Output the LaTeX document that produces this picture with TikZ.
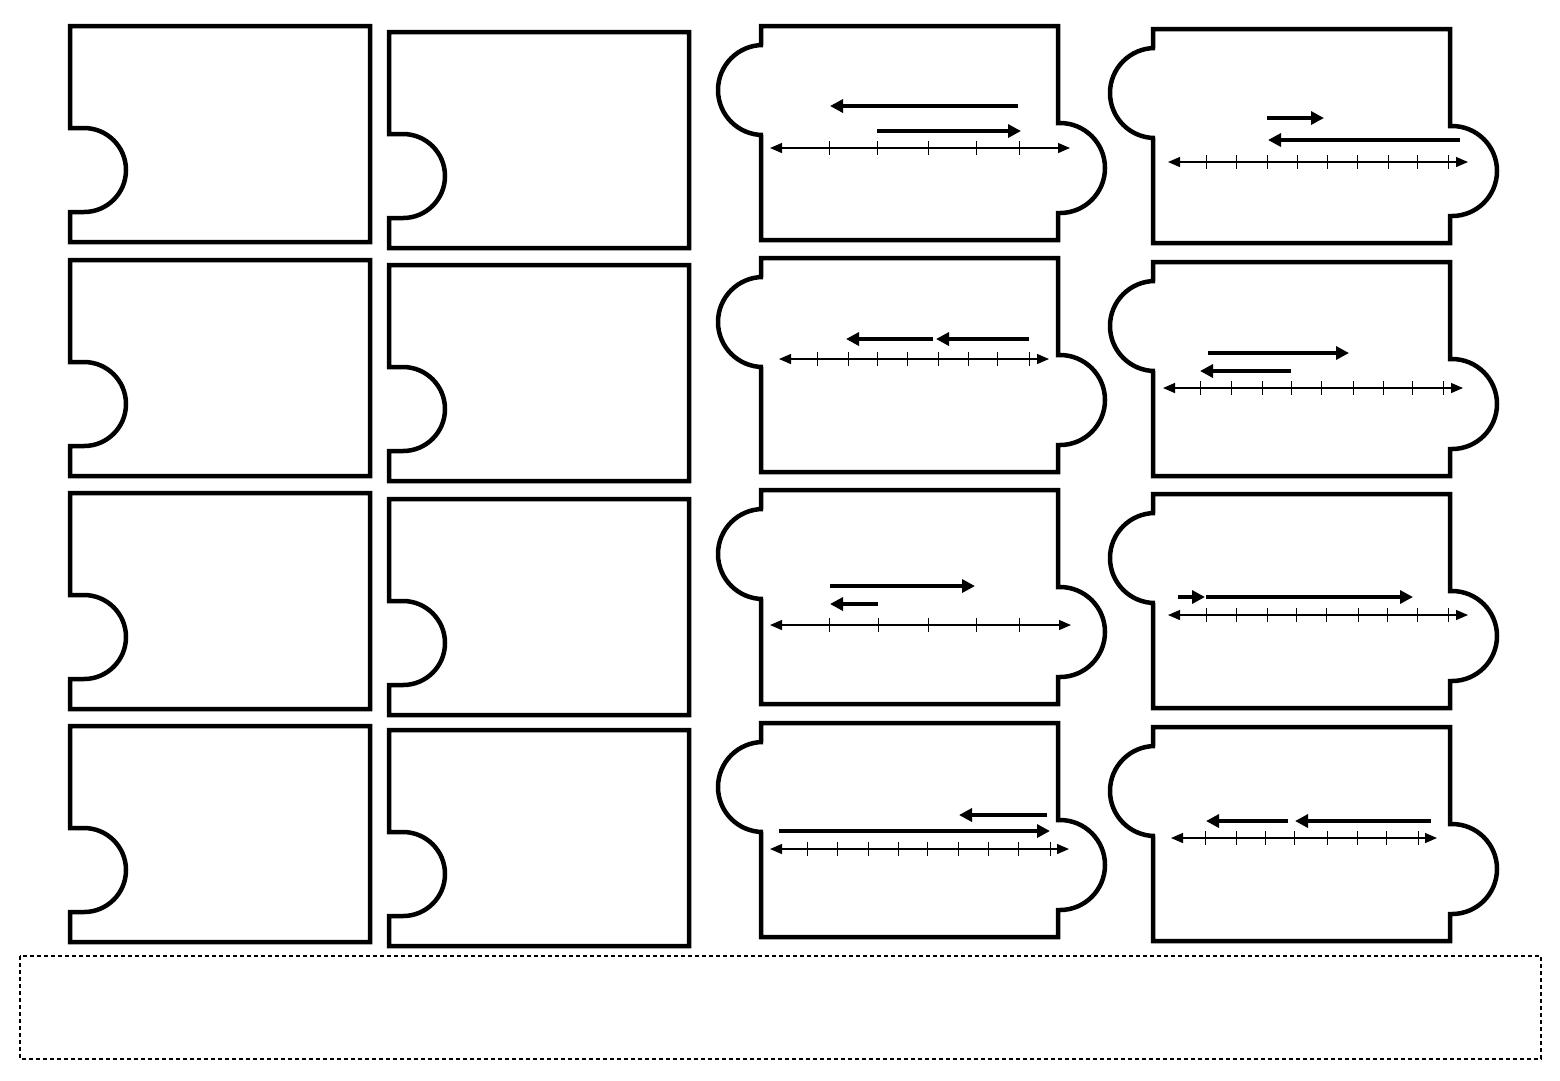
\documentclass[tikz,border=0pt]{standalone}
\usetikzlibrary{arrows.meta}
\tikzset{
  piece/.style={draw=black, line width=0.45mm, line join=miter},
  numline/.style={line width=0.13mm, {Triangle[length=1.2mm,width=1mm]}-{Triangle[length=1.2mm,width=1mm]}},
  tickmark/.style={line width=0.1mm},
  hop/.style={line width=0.4mm, -{Triangle[length=1.3mm,width=1.3mm]}},
  cutline/.style={line width=0.13mm, dash pattern=on 0.4mm off 0.3mm}
}
\newcommand{\notchpiece}[2]{%
  \draw[piece, shift={(#1,-#2)}] (0,0) -- (300,0) -- (300,-216) -- (0,-216) -- (0,-186) -- (14,-186)
    arc[start angle=-90, end angle=90, radius=42] -- (0,-102) -- cycle;}
\newcommand{\bumppiece}[2]{%
  \draw[piece, shift={(#1,-#2)}] (0,0) -- (297,0) -- (297,-97) -- (299,-97)
    arc[start angle=90, end angle=-90, radius=45] -- (297,-187) -- (297,-214) -- (0,-214) -- (0,-109) -- (2,-109)
    arc[start angle=-90, end angle=-270, radius=45] -- (0,-19) -- cycle;}
\newcommand{\numline}[4]{%
  \draw[numline] (#2,-#1) -- (#3,-#1);
  \foreach \t in {#4} \draw[tickmark] (\t,-#1+7) -- (\t,-#1-7);}

\begin{document}
\begin{tikzpicture}[x=0.1mm, y=0.1mm]
\useasboundingbox (0,0) rectangle (1560,-1080);

\notchpiece{70}{26}
\notchpiece{70}{260}
\notchpiece{70}{493}
\notchpiece{70}{726}
\notchpiece{389}{32}
\notchpiece{389}{265}
\notchpiece{389}{499}
\notchpiece{389}{730}

\bumppiece{761}{26}
\bumppiece{761}{258}
\bumppiece{761}{490}
\bumppiece{761}{723}
\bumppiece{1153}{29}
\bumppiece{1153}{262}
\bumppiece{1153}{494}
\bumppiece{1153}{727}

\numline{148}{770}{1070}{829,877,928,976,1019}
\draw[hop] (1018,-106) -- (830,-106);
\draw[hop] (877,-131) -- (1021,-131);

\numline{162}{1168}{1468}{1206,1236,1267,1297,1327,1357,1388,1417,1448}
\draw[hop] (1267,-118) -- (1324,-118);
\draw[hop] (1460,-140) -- (1268,-140);

\numline{359}{779}{1049}{817,848,877,907,938,968,997,1029}
\draw[hop] (1029,-339) -- (936,-339);
\draw[hop] (933,-339) -- (846,-339);

\numline{388}{1163}{1463}{1200,1231,1262,1291,1321,1353,1383,1412,1443}
\draw[hop] (1208,-353) -- (1349,-353);
\draw[hop] (1291,-371) -- (1200,-371);

\numline{625}{770}{1071}{829,878,928,976,1019}
\draw[hop] (830,-586) -- (975,-586);
\draw[hop] (878,-604) -- (830,-604);

\numline{615}{1168}{1468}{1206,1236,1267,1296,1326,1358,1387,1417,1448}
\draw[hop] (1178,-597) -- (1205,-597);
\draw[hop] (1206,-597) -- (1413,-597);

\numline{849}{770}{1069}{807,837,868,898,927,958,988,1018,1050}
\draw[hop] (1047,-815) -- (959,-815);
\draw[hop] (779,-831) -- (1050,-831);

\numline{838}{1171}{1437}{1205,1236,1265,1294,1327,1357,1386,1418}
\draw[hop] (1288,-821) -- (1206,-821);
\draw[hop] (1431,-821) -- (1295,-821);

\draw[cutline] (20,-956) rectangle (1541,-1059);
\end{tikzpicture}
\end{document}
